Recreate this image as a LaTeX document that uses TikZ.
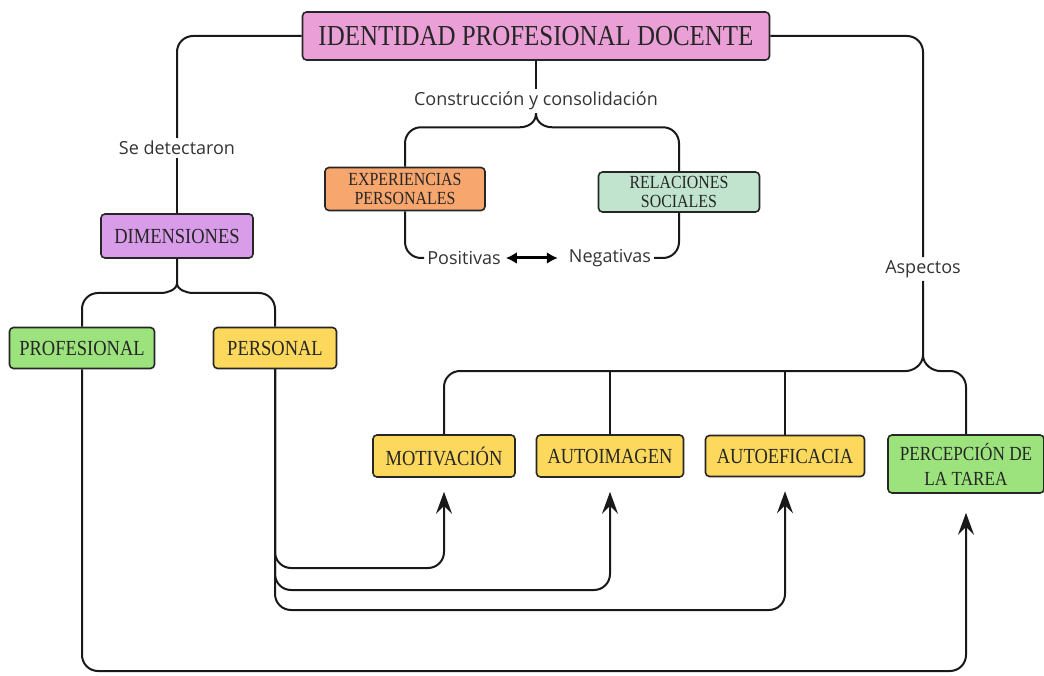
\documentclass[tikz,border=0pt]{standalone}
\usepackage{fontspec}
\usepackage{tikz}
\usetikzlibrary{arrows.meta}
\setmainfont{Open Sans}
\newfontfamily\boxfont[FakeStretch=0.86]{Liberation Serif}
\definecolor{titlepink}{RGB}{234,160,214}
\definecolor{dimpurple}{RGB}{216,156,232}
\definecolor{exporange}{RGB}{247,166,110}
\definecolor{relmint}{RGB}{192,228,206}
\definecolor{boxgreen}{RGB}{156,227,126}
\definecolor{boxyellow}{RGB}{252,216,92}

\begin{document}
\begin{tikzpicture}[x=1pt,y=-1pt,
    box/.style={draw=black!85, line width=1.6pt, rounded corners=4pt, text=black!85,
        font=\boxfont\fontsize{21.5}{24}\selectfont, align=center, inner sep=0pt},
    lbl/.style={text=black!80, font=\fontsize{18}{21}\selectfont, inner sep=3pt},
    conn/.style={line width=2pt, black!90, rounded corners=16pt},
    brace/.style={line width=2pt, black!90, sharp corners},
    arr/.style={conn, -{Stealth[length=22pt,width=16pt,inset=8pt]}},
    dbl/.style={line width=3pt, {Latex[length=11pt,width=12pt]}-{Latex[length=11pt,width=12pt]}}]
    \useasboundingbox (0,0) rectangle (1044,676);

    % Boxes
    \node[box, fill=titlepink, minimum width=467pt, minimum height=48pt,
        font=\boxfont\fontsize{29}{32}\selectfont] (idp) at (536,36) {IDENTIDAD PROFESIONAL DOCENTE};
    \node[box, fill=exporange, minimum width=160pt, minimum height=43pt,
        font=\boxfont\fontsize{18.5}{19}\selectfont] (exp) at (405,189) {EXPERIENCIAS\\PERSONALES};
    \node[box, fill=relmint, minimum width=161pt, minimum height=40pt,
        font=\boxfont\fontsize{18.5}{19}\selectfont] (rel) at (679,192) {RELACIONES\\SOCIALES};
    \node[box, fill=dimpurple, minimum width=152pt, minimum height=44pt] (dim) at (177,236) {DIMENSIONES};
    \node[box, fill=boxgreen, minimum width=145pt, minimum height=41pt] (prof) at (82,348) {PROFESIONAL};
    \node[box, fill=boxyellow, minimum width=123pt, minimum height=41pt] (pers) at (275,348) {PERSONAL};
    \node[box, fill=boxyellow, minimum width=142pt, minimum height=42pt] (mot) at (444,456) {MOTIVACIÓN};
    \node[box, fill=boxyellow, minimum width=147pt, minimum height=42pt] (autoim) at (610,456) {AUTOIMAGEN};
    \node[box, fill=boxyellow, minimum width=159pt, minimum height=41pt] (autoef) at (785,456) {AUTOEFICACIA};
    \node[box, fill=boxgreen, minimum width=156pt, minimum height=58pt,
        font=\boxfont\fontsize{20}{25}\selectfont] (perc) at (966,464) {PERCEPCIÓN DE\\LA TAREA};

    % Labels
    \node[lbl] (cons) at (536,101) {Construcción y consolidación};
    \node[lbl] (sedet) at (177,148) {Se detectaron};
    \node[lbl] (asp) at (923,269) {Aspectos};
    \node[lbl] (pos) at (464,258) {Positivas};
    \node[lbl] (neg) at (610,258) {Negativas};

    % Top branches
    \draw[conn] (idp.west) -| (sedet.north);
    \draw[conn] (sedet.south) -- (dim.north);
    \draw[conn] (idp.east) -| (asp.north);
    \draw[conn] (idp.south) -- (cons.north);

    % Construction brace
    \draw[brace] (cons.south) .. controls +(0,10) and +(7,0) .. ++(-16,14) coordinate (consl);
    \draw[brace] (cons.south) .. controls +(0,10) and +(-7,0) .. ++(16,14) coordinate (consr);
    \draw[conn] (consl) -| (exp.north);
    \draw[conn] (consr) -| (rel.north);
    \draw[conn] (exp.south) |- (pos.west);
    \draw[conn] (rel.south) |- (neg.east);
    \draw[dbl, shorten <=2pt, shorten >=8pt] (pos.east) -- (neg.west);

    % Dimensions brace
    \coordinate (jdim) at (177,283);
    \draw[brace] (dim.south) -- (jdim) .. controls +(0,7) and +(6,0) .. ++(-16,10) coordinate (diml);
    \draw[brace] (jdim) .. controls +(0,7) and +(-6,0) .. ++(16,10) coordinate (dimr);
    \draw[conn] (diml) -| (prof.north);
    \draw[conn] (dimr) -| (pers.north);

    % Aspects brace
    \coordinate (jasp) at (923,355);
    \draw[brace] (asp.south) -- (jasp) .. controls +(0,10) and +(7,0) .. ++(-17,16) coordinate (aspl);
    \draw[brace] (jasp) .. controls +(0,10) and +(-7,0) .. ++(17,16) coordinate (aspr);
    \draw[conn] (aspl) -| (mot.north);
    \draw[conn] (aspr) -| (perc.north);
    \draw[conn] (autoim.north) -- (autoim.north |- aspl);
    \draw[conn] (autoef.north) -- (autoef.north |- aspl);

    % Arrows from the dimensions
    \draw[arr, shorten >=14pt] (pers.south) |- (mot.south |- 0,568) -- (mot.south);
    \draw[arr, shorten >=14pt] (pers.south) |- (autoim.south |- 0,590) -- (autoim.south);
    \draw[arr, shorten >=14pt] (pers.south) |- (autoef.south |- 0,610) -- (autoef.south);
    \draw[arr, shorten >=19pt] (prof.south) |- (perc.south |- 0,671) -- (perc.south);
\end{tikzpicture}
\end{document}
